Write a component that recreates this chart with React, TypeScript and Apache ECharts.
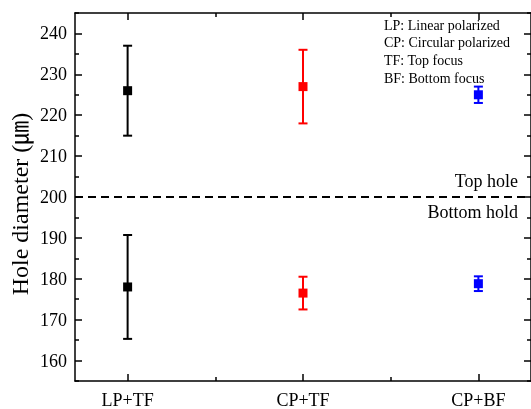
import React, { useEffect, useRef } from "react";
import * as echarts from "echarts";

const categories = ["LP+TF", "CP+TF", "CP+BF"];
const topMean = [226, 227, 225];
const topErr = [11, 9, 2];
const bottomMean = [178, 176.5, 178.8];
const bottomErr = [12.7, 4, 1.8];
const pointColors = ["#000000", "#ff0000", "#0000ff"];
const yMajorTicks = [160, 170, 180, 190, 200, 210, 220, 230, 240];
const yMinorTicks = [155, 165, 175, 185, 195, 205, 215, 225, 235, 245];
const xMajorTicks = [1, 2, 3];
const xMinorTicks = [1.5, 2.5];
const separatorValue = 200;
const yTitle = "Hole diameter (㎛)";
const notes = ["LP: Linear polarized", "CP: Circular polarized", "TF: Top focus", "BF: Bottom focus"];

const FONT = "'Liberation Serif', 'Times New Roman', 'Noto Sans CJK JP', serif";

export default function App() {
  const ref = useRef<HTMLDivElement>(null);
  useEffect(() => {
    if (!ref.current) return;
    const chart = echarts.init(ref.current, null, { renderer: "svg" });
    const xs = categories.map((_, i) => i + 1);
    const errData: any[] = [];
    const ptData: any[] = [];
    xs.forEach((x, i) => {
      errData.push({ value: [x, topMean[i] - topErr[i], topMean[i] + topErr[i]], itemStyle: { color: pointColors[i] } });
      errData.push({ value: [x, bottomMean[i] - bottomErr[i], bottomMean[i] + bottomErr[i]], itemStyle: { color: pointColors[i] } });
      ptData.push({ value: [x, topMean[i]], itemStyle: { color: pointColors[i] } });
      ptData.push({ value: [x, bottomMean[i]], itemStyle: { color: pointColors[i] } });
    });
    const axisLine = { show: true, lineStyle: { color: "#000", width: 1.5 } };
    const gridRect = { left: 75, top: 13, right: 0, bottom: 28, containLabel: false, outerBoundsMode: "none" };
    const xBase = { type: "value", min: 0.7, max: 3.3, splitLine: { show: false } };
    const yBase = { type: "value", min: 155, max: 245, splitLine: { show: false } };
    chart.setOption({
      animation: false,
      grid: [gridRect, gridRect],
      xAxis: [
        {
          ...xBase, gridIndex: 0, position: "bottom", axisLine,
          axisTick: { inside: true, length: 7, customValues: xMajorTicks, lineStyle: { color: "#000", width: 1.5 } },
          axisLabel: {
            customValues: xMajorTicks, margin: 10, color: "#000", fontSize: 18, fontFamily: FONT,
            formatter: (v: number) => categories[Math.round(v) - 1] ?? "",
          },
        },
        {
          ...xBase, gridIndex: 0, position: "top", axisLine,
          axisTick: { inside: true, length: 7, customValues: xMajorTicks, lineStyle: { color: "#000", width: 1.5 } },
          axisLabel: { show: false },
        },
        {
          ...xBase, gridIndex: 1, position: "bottom", axisLine: { show: false },
          axisTick: { inside: true, length: 4, customValues: xMinorTicks, lineStyle: { color: "#000", width: 1.5 } },
          axisLabel: { show: false },
        },
        {
          ...xBase, gridIndex: 1, position: "top", axisLine: { show: false },
          axisTick: { inside: true, length: 4, customValues: xMinorTicks, lineStyle: { color: "#000", width: 1.5 } },
          axisLabel: { show: false },
        },
      ],
      yAxis: [
        {
          ...yBase, gridIndex: 0, position: "left", axisLine,
          axisTick: { inside: true, length: 7, customValues: yMajorTicks, lineStyle: { color: "#000", width: 1.5 } },
          axisLabel: { customValues: yMajorTicks, margin: 8, color: "#000", fontSize: 18, fontFamily: FONT },
        },
        {
          ...yBase, gridIndex: 0, position: "right", axisLine,
          axisTick: { inside: true, length: 7, customValues: yMajorTicks, lineStyle: { color: "#000", width: 1.5 } },
          axisLabel: { show: false },
        },
        {
          ...yBase, gridIndex: 1, position: "left", axisLine: { show: false },
          axisTick: { inside: true, length: 4, customValues: yMinorTicks, lineStyle: { color: "#000", width: 1.5 } },
          axisLabel: { show: false },
        },
        {
          ...yBase, gridIndex: 1, position: "right", axisLine: { show: false },
          axisTick: { inside: true, length: 4, customValues: yMinorTicks, lineStyle: { color: "#000", width: 1.5 } },
          axisLabel: { show: false },
        },
      ],
      series: [
        {
          type: "line",
          xAxisIndex: 0, yAxisIndex: 0,
          data: [[0.7, separatorValue], [3.3, separatorValue]],
          symbol: "none",
          lineStyle: { color: "#000", width: 2, type: [8, 5] },
          silent: true,
        },
        {
          type: "custom",
          xAxisIndex: 0, yAxisIndex: 0,
          data: errData,
          renderItem: (params: any, api: any) => {
            const x = api.value(0);
            const pLo = api.coord([x, api.value(1)]);
            const pHi = api.coord([x, api.value(2)]);
            const color = api.visual("color");
            const hw = 4.5;
            const st = { stroke: color, lineWidth: 2 };
            return {
              type: "group",
              children: [
                { type: "line", shape: { x1: pHi[0], y1: pHi[1], x2: pLo[0], y2: pLo[1] }, style: st },
                { type: "line", shape: { x1: pHi[0] - hw, y1: pHi[1], x2: pHi[0] + hw, y2: pHi[1] }, style: st },
                { type: "line", shape: { x1: pLo[0] - hw, y1: pLo[1], x2: pLo[0] + hw, y2: pLo[1] }, style: st },
              ],
            };
          },
          z: 3,
        },
        {
          type: "scatter",
          xAxisIndex: 0, yAxisIndex: 0,
          data: ptData,
          symbol: "rect",
          symbolSize: 9,
          itemStyle: { opacity: 1 },
          z: 4,
        },
      ],
      graphic: [
        {
          type: "text",
          x: 20,
          y: 204,
          rotation: Math.PI / 2,
          style: { text: yTitle, fill: "#000", fontSize: 24, fontFamily: FONT, align: "center", verticalAlign: "middle" },
        },
        ...notes.map((t, i) => ({
          type: "text",
          left: 384,
          top: 18 + i * 17.7,
          style: { text: t, fill: "#000", fontSize: 14, fontFamily: FONT },
        })),
        {
          type: "text",
          x: 518,
          y: 181,
          style: { text: "Top hole", fill: "#000", fontSize: 18, fontFamily: FONT, align: "right", verticalAlign: "middle" },
        },
        {
          type: "text",
          x: 518,
          y: 212,
          style: { text: "Bottom hold", fill: "#000", fontSize: 18, fontFamily: FONT, align: "right", verticalAlign: "middle" },
        },
      ],
    });
    return () => chart.dispose();
  }, []);
  return <div ref={ref} style={{ position: "fixed", left: 0, top: 0, width: 531, height: 409 }} />;
}
